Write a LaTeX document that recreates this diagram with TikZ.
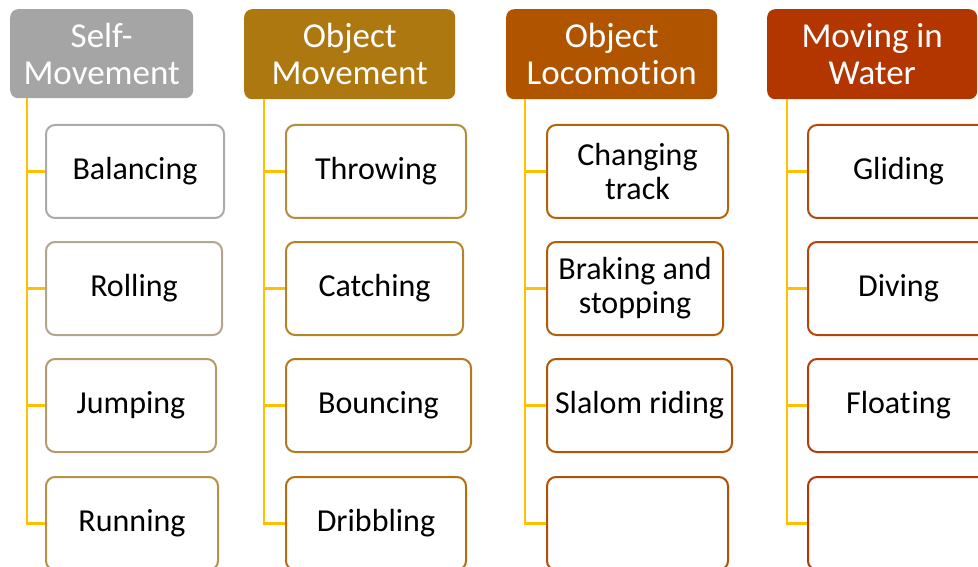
\documentclass[tikz,border=0pt]{standalone}
\usepackage{fontspec}
\setmainfont{Carlito}
\definecolor{hA}{RGB}{165,165,165}
\definecolor{hB}{RGB}{174,120,17}
\definecolor{hC}{RGB}{176,84,0}
\definecolor{hD}{RGB}{179,54,0}
\definecolor{conn}{RGB}{255,192,0}
\definecolor{bA1}{RGB}{170,170,170}
\definecolor{bA2}{RGB}{178,166,140}
\definecolor{bA3}{RGB}{178,156,110}
\definecolor{bA4}{RGB}{180,146,72}
\definecolor{bB1}{RGB}{180,140,62}
\definecolor{bB2}{RGB}{180,132,45}
\definecolor{bB3}{RGB}{180,120,30}
\definecolor{bB4}{RGB}{180,112,16}
\definecolor{bC1}{RGB}{178,100,10}
\definecolor{bC2}{RGB}{178,94,8}
\definecolor{bC3}{RGB}{176,86,6}
\definecolor{bC4}{RGB}{176,80,10}
\definecolor{bD1}{RGB}{180,74,10}
\definecolor{bD2}{RGB}{180,68,10}
\definecolor{bD3}{RGB}{180,62,10}
\definecolor{bD4}{RGB}{180,55,10}
\tikzset{
  hdr/.style={fill=#1, draw=none, rounded corners=8pt, text=white, align=center,
    font=\fontsize{35}{37}\selectfont, inner sep=0pt, anchor=north west},
  kid/.style={draw=#1, line width=2pt, fill=white, rounded corners=9pt, text=black, align=center,
    font=\fontsize{32}{34}\selectfont, inner sep=0pt, anchor=north west, minimum height=93pt},
  link/.style={draw=conn, line width=2.5pt}
}
\begin{document}
\begin{tikzpicture}[x=1pt,y=-1pt]
\useasboundingbox (0,0) rectangle (978,567);
\clip (0,0) rectangle (978,567);
% headers
\node[hdr=hA, minimum width=183pt, minimum height=89pt] (h1) at (10,9) {Self-\\Movement};
\node[hdr=hB, minimum width=211pt, minimum height=90pt] (h2) at (244,9) {Object\\Movement};
\node[hdr=hC, minimum width=211pt, minimum height=90pt] (h3) at (506,9) {Object\\Locomot\kern1pt ion};
\node[hdr=hD, minimum width=210pt, minimum height=90pt] (h4) at (767,9) {Moving in\\Water};
% column 1
\node[kid=bA1, minimum width=178pt] (a1) at (45,124) {Balancing};
\node[kid=bA2, minimum width=176pt] (a2) at (45,241) {Rolling};
\node[kid=bA3, minimum width=170pt] (a3) at (45,358) {Jumping};
\node[kid=bA4, minimum width=172pt] (a4) at (45,476) {Running};
% column 2
\node[kid=bB1, minimum width=180pt] (b1) at (285,124) {Throwing};
\node[kid=bB2, minimum width=177pt] (b2) at (285,241) {Catching};
\node[kid=bB3, minimum width=185pt] (b3) at (285,358) {Bouncing};
\node[kid=bB4, minimum width=180pt] (b4) at (285,476) {Dribbling};
% column 3
\node[kid=bC1, minimum width=181pt] (c1) at (546,124) {Changing\\track};
\node[kid=bC2, minimum width=176pt] (c2) at (546,241) {Braking and\\stopping};
\node[kid=bC3, minimum width=185pt] (c3) at (546,358) {Slalom riding};
\node[kid=bC4, minimum width=181pt] (c4) at (546,476) {};
% column 4
\node[kid=bD1, minimum width=181pt] (d1) at (807,124) {Gliding};
\node[kid=bD2, minimum width=181pt] (d2) at (807,241) {Diving};
\node[kid=bD3, minimum width=181pt] (d3) at (807,358) {Float\kern1pt ing};
\node[kid=bD4, minimum width=181pt] (d4) at (807,476) {};
% connectors
\coordinate (v1) at (27,98);
\coordinate (v2) at (264,99);
\coordinate (v3) at (525,99);
\coordinate (v4) at (787,99);
\foreach \v/\k in {v1/a,v2/b,v3/c,v4/d}{
  \foreach \i in {1,2,3,4}{
    \draw[link] (\v) |- (\k\i.west);
  }
}
\end{tikzpicture}
\end{document}
